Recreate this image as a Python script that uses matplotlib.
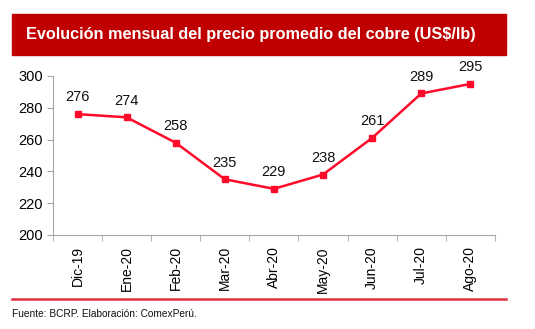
import matplotlib.pyplot as plt
from matplotlib.patches import Rectangle

plt.rcParams['font.family'] = ['Liberation Sans', 'DejaVu Sans']

# Monthly copper price data (US$/lb)
months = ['Dic-19', 'Ene-20', 'Feb-20', 'Mar-20', 'Abr-20', 'May-20', 'Jun-20', 'Jul-20', 'Ago-20']
prices = [276, 274, 258, 235, 229, 238, 261, 289, 295]

red_line = '#ff0a2a'
axis_gray = '#a6a6a6'

fig = plt.figure(figsize=(5.35, 3.29), dpi=100)
ax = fig.add_axes([0.099, 0.286, 0.826, 0.483])

x = list(range(len(months)))
ax.plot(x, prices, color=red_line, linewidth=1.8, marker='s', markersize=5)

for xi, yi in zip(x, prices):
    ax.annotate(str(yi), (xi, yi), textcoords='offset points', xytext=(0, 7),
                ha='center', va='bottom', fontsize=10.5, color='#111111')

ax.set_xlim(-0.5, len(months) - 0.5)
ax.set_ylim(200, 300)
ax.set_yticks(range(200, 301, 20))
ax.set_xticks(x)
ax.set_xticklabels(months, rotation=90, fontsize=10)
ax.set_xticks([i - 0.5 for i in range(len(months) + 1)], minor=True)
ax.tick_params(axis='x', which='major', length=0, pad=8)
ax.tick_params(axis='x', which='minor', length=4, color=axis_gray, direction='out')
ax.tick_params(axis='y', length=4, color=axis_gray, labelsize=10.5, pad=3)

for side in ['top', 'right']:
    ax.spines[side].set_visible(False)
for side in ['left', 'bottom']:
    ax.spines[side].set_color(axis_gray)

# Title banner
fig.patches.append(Rectangle((12 / 535, 1 - 55 / 329), 494 / 535, 41 / 329,
                             transform=fig.transFigure, color='#c00000', zorder=0))
fig.text(26 / 535, 1 - 35 / 329, 'Evolución mensual del precio promedio del cobre (US$/lb)',
         color='white', fontsize=11.7, fontweight='bold', va='center', ha='left')

# Separator line and source
fig.lines.append(plt.Line2D([12 / 535, 506 / 535], [1 - 299 / 329, 1 - 299 / 329],
                            transform=fig.transFigure, color='#e0303f', linewidth=1.8))
fig.text(12 / 535, 1 - 314 / 329, 'Fuente: BCRP. Elaboración: ComexPerú.',
         fontsize=7.3, va='center', ha='left', color='#111111')

fig.savefig('out.png', dpi=100)
